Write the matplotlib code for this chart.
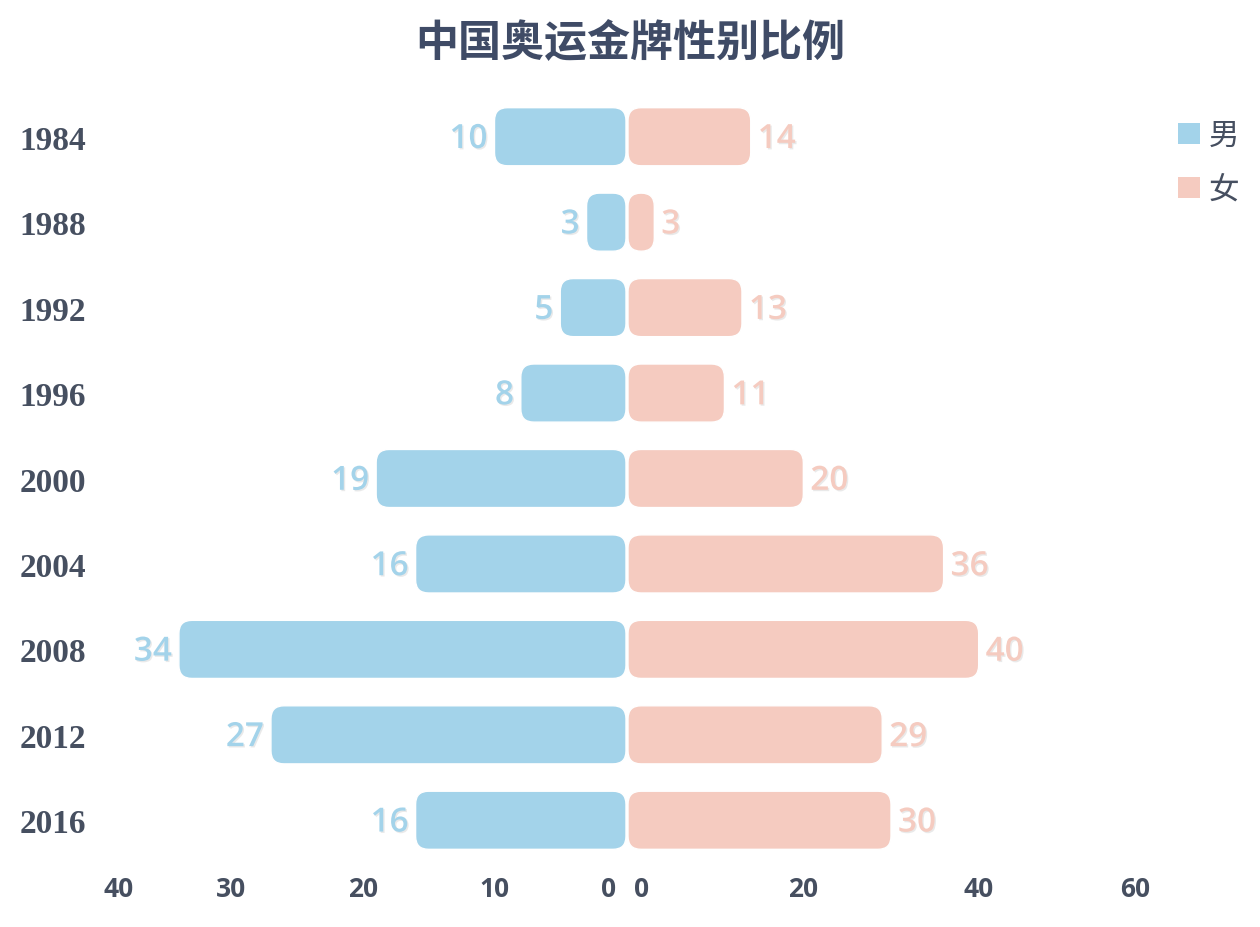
import matplotlib
matplotlib.use('Agg')
import matplotlib.pyplot as plt
from matplotlib.patches import FancyBboxPatch, Patch
from matplotlib.transforms import IdentityTransform, ScaledTranslation
import matplotlib.patheffects as pe

# Dados: medalhas de ouro por sexo
years = ['1984', '1988', '1992', '1996', '2000', '2004', '2008', '2012', '2016']
male = [10, 3, 5, 8, 19, 16, 34, 27, 16]
female = [14, 3, 13, 11, 20, 36, 40, 29, 30]
left_ticks = [40, 30, 20, 10, 0]
right_ticks = [0, 20, 40, 60]

blue = '#a3d3ea'
pink = '#f5cbc0'
text_dark = '#464f60'

plt.rcParams['font.family'] = ['Noto Sans CJK SC', 'DejaVu Sans']

fig = plt.figure(figsize=(12.6, 9.28), dpi=100)
W, H = 1260, 928
bottom = 1 - 864 / H
height = (864 - 95) / H
ax_l = fig.add_axes([100 / W, bottom, 526 / W, height])
ax_r = fig.add_axes([628 / W, bottom, 526 / W, height])

y = list(range(len(years)))
bar_h = 0.68


def rounded(ax, bars, color, radius=13):
    # troca os retângulos por caixas arredondadas (em pixels)
    for rect in bars:
        ext = rect.get_extents()
        r = min(radius, ext.width / 2, ext.height / 2)
        box = FancyBboxPatch((ext.x0, ext.y0), ext.width, ext.height,
                             boxstyle=f"round,pad=0,rounding_size={r}",
                             transform=IdentityTransform(),
                             facecolor=color, edgecolor='white', linewidth=1)
        ax.add_patch(box)
        rect.set_visible(False)


shadow = [pe.withSimplePatchShadow(offset=(1, -1), shadow_rgbFace='#aaaaaa', alpha=0.25)]

for ax, vals, color, lim, ticks in [(ax_l, male, blue, (40, 0), left_ticks),
                                     (ax_r, female, pink, (0, 60), right_ticks)]:
    ax.set_xlim(*lim)
    ax.set_ylim(len(years) - 0.5, -0.5)
    bars = ax.barh(y, vals, height=bar_h, color=color)
    rounded(ax, bars, color)
    sign = -1 if ax is ax_l else 1
    for yi, v in zip(y, vals):
        ax.annotate(str(v), (v, yi), xytext=(sign * 5, -2), textcoords='offset points',
                    ha='right' if sign < 0 else 'left', va='center',
                    fontsize=24, color=color, family='Open Sans', fontweight='semibold',
                    path_effects=shadow)
    ax.set_xticks(ticks)
    ax.set_xticklabels([str(t) for t in ticks], fontsize=19, fontweight='bold',
                       color=text_dark, family='Open Sans')
    labels = ax.get_xticklabels()
    labels[0].set_ha('left')
    labels[-1].set_ha('right')
    ax.tick_params(axis='x', length=0, pad=9)
    for s in ax.spines.values():
        s.set_visible(False)

# afastar os rótulos das pontas, como no original
lab_l = ax_l.get_xticklabels()
lab_r = ax_r.get_xticklabels()
shift = [(lab_l[0], 4), (lab_l[-1], -10), (lab_r[0], 6), (lab_r[-1], -4)]
for lab, dx in shift:
    lab.set_transform(lab.get_transform() + ScaledTranslation(dx / 100, 0, fig.dpi_scale_trans))

ax_l.set_yticks(y)
ax_l.set_yticklabels(years, fontsize=24, fontweight='bold', color=text_dark,
                     family='Liberation Serif')
ax_l.tick_params(axis='y', length=0, pad=10)
ax_r.set_yticks([])

fig.text(0.5, 1 - 43 / H, '中国奥运金牌性别比例', ha='center', va='center',
         fontsize=31, fontweight='bold', color='#3f4b66')

handles = [Patch(facecolor=blue), Patch(facecolor=pink)]
fig.legend(handles, ['男', '女'], loc='upper left', bbox_to_anchor=(1163 / W, 1 - 106 / H),
           frameon=False, fontsize=22, handlelength=0.7, handleheight=0.7,
           handletextpad=0.3, labelspacing=0.75, borderpad=0, labelcolor=text_dark)

plt.savefig('out.png', dpi=100)
plt.close(fig)
